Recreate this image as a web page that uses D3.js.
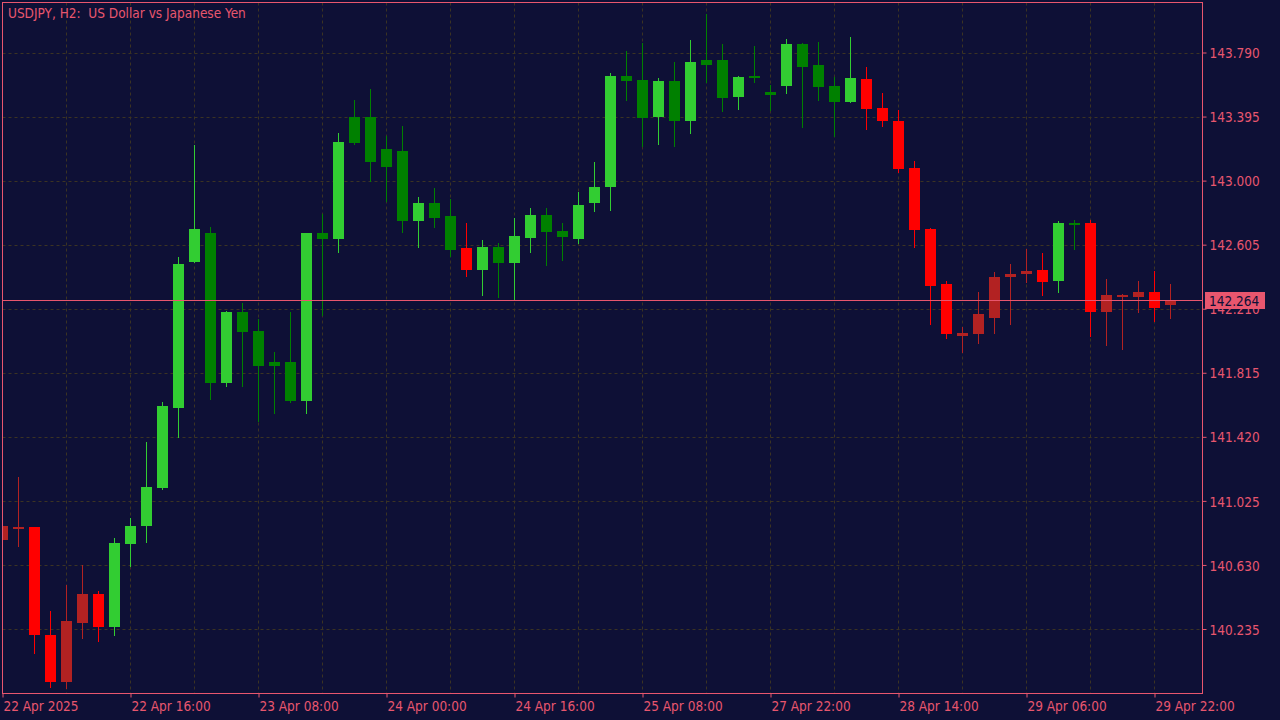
<!DOCTYPE html>
<html lang="en">
<head>
    <meta charset="UTF-8">
    <title>USDJPY H2</title>
    <script src="https://cdn.jsdelivr.net/npm/d3@7"></script>
    <style>
        body { margin: 0; background: #0e1036; overflow: hidden; }
        text { font-family: "DejaVu Sans Condensed", "DejaVu Sans", sans-serif; font-stretch: condensed; white-space: pre; }
    </style>
</head>
<body>
</body>
<script>
    const width = 1280;
    const height = 720;

    // H2 bars, oldest first
    const open = [140.784,140.864,140.864,140.198,139.910,140.272,140.451,140.247,140.759,140.870,
        141.105,141.598,142.498,142.677,141.752,142.190,142.073,141.882,141.882,141.641,
        142.677,142.640,143.232,143.392,143.084,143.183,142.751,142.862,142.782,142.585,
        142.449,142.591,142.492,142.646,142.788,142.689,142.640,142.862,142.961,143.645,
        143.621,143.392,143.614,143.368,143.744,143.744,143.516,143.645,143.546,143.584,
        143.843,143.713,143.584,143.485,143.627,143.447,143.368,143.078,142.702,142.363,
        142.042,142.054,142.153,142.406,142.424,142.449,142.381,142.739,142.739,142.190,
        142.282,142.282,142.313,142.233];
    const high = [140.907,141.172,140.866,140.346,140.506,140.630,140.469,140.796,140.920,141.388,
        141.635,142.529,143.220,142.714,142.196,142.245,142.147,141.943,142.190,142.680,
        142.794,143.294,143.497,143.565,143.275,143.337,142.899,142.955,142.887,142.736,
        142.634,142.615,142.770,142.830,142.830,142.739,142.930,143.115,143.664,143.799,
        143.849,143.633,143.732,143.867,144.028,143.843,143.645,143.830,143.590,143.874,
        143.849,143.855,143.639,143.886,143.701,143.540,143.436,143.121,142.708,142.381,
        142.097,142.313,142.437,142.486,142.578,142.554,142.751,142.757,142.757,142.393,
        142.301,142.381,142.443,142.363];
    const low = [140.753,140.747,140.087,139.877,139.871,140.181,140.161,140.198,140.624,140.772,
        141.098,141.419,142.498,141.653,141.733,141.733,141.518,141.567,141.635,141.567,
        142.171,142.560,143.226,142.998,142.874,142.683,142.591,142.714,142.535,142.412,
        142.295,142.282,142.270,142.560,142.480,142.511,142.615,142.813,142.819,143.497,
        143.214,143.226,143.214,143.294,143.608,143.429,143.441,143.608,143.436,143.540,
        143.331,143.497,143.275,143.485,143.319,143.337,143.053,142.591,142.116,142.029,
        141.943,141.999,142.060,142.116,142.375,142.295,142.313,142.578,142.042,141.986,
        141.962,142.190,142.134,142.153];
    const close = [140.870,140.867,140.198,139.910,140.284,140.451,140.247,140.765,140.870,141.111,
        141.610,142.486,142.702,141.752,142.190,142.067,141.857,141.857,141.641,142.677,
        142.640,143.238,143.392,143.115,143.195,142.751,142.862,142.770,142.572,142.449,
        142.591,142.492,142.659,142.788,142.683,142.652,142.850,142.961,143.645,143.614,
        143.386,143.614,143.368,143.732,143.713,143.510,143.639,143.633,143.528,143.843,
        143.701,143.577,143.485,143.633,143.441,143.368,143.072,142.695,142.350,142.054,
        142.060,142.178,142.406,142.424,142.443,142.375,142.739,142.733,142.190,142.295,
        142.295,142.313,142.215,142.264];
    // trend state per bar: 2 strong up, 1 weak up, -1 weak down, -2 strong down
    const signal = [-1,-1,-2,-2,-1,-1,-2,2,2,2,
        2,2,2,1,2,1,1,1,1,2,
        1,2,1,1,1,1,2,1,1,-2,
        2,1,2,2,1,1,2,2,2,1,
        1,2,1,2,1,1,2,1,1,2,
        1,1,1,2,-2,-2,-2,-2,-2,-2,
        -1,-1,-1,-1,-1,-2,2,1,-2,-1,
        -1,-1,-2,-1];

    const priceTicks = [143.790, 143.395, 143.000, 142.605, 142.210, 141.815, 141.420, 141.025, 140.630, 140.235];
    const timeTickIdx = [0, 8, 16, 24, 32, 40, 48, 56, 64, 72];
    const timeTickLabels = ["22 Apr 2025", "22 Apr 16:00", "23 Apr 08:00", "24 Apr 00:00", "24 Apr 16:00",
        "25 Apr 08:00", "27 Apr 22:00", "28 Apr 14:00", "29 Apr 06:00", "29 Apr 22:00"];
    const lastPrice = 142.264;
    const title = "USDJPY, H2:  US Dollar vs Japanese Yen";

    const fg = "#e8566e";
    const gridColor = "#3b3323";

    const plot = { left: 2.5, top: 2.5, right: 1202.5, bottom: 693.5 };

    const x = d3.scaleLinear().domain([0, 75]).range([plot.left, plot.right]);
    const y = d3.scaleLinear().domain([140.235, 143.790]).range([629, 52.5]);
    const color = d3.scaleOrdinal().domain([2, 1, -1, -2]).range(["#32cd32", "#008000", "#b22222", "#ff0000"]);

    const bars = open.map((o, i) => ({ i, o, h: high[i], l: low[i], c: close[i], s: signal[i] }));

    const svg = d3.select("body")
        .append("svg")
            .attr("width", width)
            .attr("height", height)
            .style("display", "block");

    svg.append("rect")
        .attr("width", width)
        .attr("height", height)
        .attr("fill", "#0e1036");

    svg.append("clipPath")
        .attr("id", "plot-clip")
        .append("rect")
            .attr("x", plot.left + 0.5)
            .attr("y", plot.top + 0.5)
            .attr("width", plot.right - plot.left - 1)
            .attr("height", plot.bottom - plot.top - 1);

    const chart = svg.append("g").attr("clip-path", "url(#plot-clip)");

    // grid
    chart.append("g")
        .selectAll("line")
        .data(priceTicks)
        .enter()
        .append("line")
            .attr("x1", plot.left)
            .attr("x2", plot.right)
            .attr("y1", d => Math.round(y(d)) + 0.5)
            .attr("y2", d => Math.round(y(d)) + 0.5)
            .attr("stroke", gridColor)
            .attr("stroke-dasharray", "3,3");

    const vGrid = d3.range(0, 76, 4);
    chart.append("g")
        .selectAll("line")
        .data(vGrid)
        .enter()
        .append("line")
            .attr("x1", d => x(d))
            .attr("x2", d => x(d))
            .attr("y1", plot.top)
            .attr("y2", plot.bottom)
            .attr("stroke", gridColor)
            .attr("stroke-dasharray", "3,3");

    // candles
    const candle = chart.append("g")
        .selectAll("g")
        .data(bars)
        .enter()
        .append("g");

    candle.append("line")
        .attr("x1", d => x(d.i))
        .attr("x2", d => x(d.i))
        .attr("y1", d => Math.round(y(d.h)))
        .attr("y2", d => Math.round(y(d.l)) + 1)
        .attr("stroke", d => color(d.s))
        .attr("stroke-width", 1);

    candle.append("rect")
        .attr("x", d => x(d.i) - 5.5)
        .attr("width", 11)
        .attr("y", d => Math.round(y(Math.max(d.o, d.c))))
        .attr("height", d => Math.max(2, Math.round(y(Math.min(d.o, d.c))) - Math.round(y(Math.max(d.o, d.c)))))
        .attr("fill", d => color(d.s));

    // last price line
    chart.append("line")
        .attr("x1", plot.left)
        .attr("x2", plot.right)
        .attr("y1", Math.round(y(lastPrice)) + 0.5)
        .attr("y2", Math.round(y(lastPrice)) + 0.5)
        .attr("stroke", fg);

    // frame
    svg.append("rect")
        .attr("x", plot.left)
        .attr("y", plot.top)
        .attr("width", plot.right - plot.left)
        .attr("height", plot.bottom - plot.top)
        .attr("fill", "none")
        .attr("stroke", fg);

    // price axis
    const yAxis = svg.append("g")
        .attr("transform", `translate(${plot.right},0)`)
        .call(d3.axisRight(y).tickValues(priceTicks).tickFormat(d3.format(".3f")).tickSize(4).tickPadding(3));
    yAxis.select(".domain").remove();
    yAxis.selectAll(".tick line").attr("stroke", fg);
    yAxis.selectAll(".tick text")
        .attr("fill", fg)
        .attr("dy", "0.38em")
        .style("font-size", "13.5px");

    // time axis
    const xAxis = svg.append("g")
        .attr("transform", `translate(0,${plot.bottom})`)
        .call(d3.axisBottom(x).tickValues(timeTickIdx).tickFormat((d, i) => timeTickLabels[i]).tickSize(4));
    xAxis.select(".domain").remove();
    xAxis.selectAll(".tick line").attr("stroke", fg);
    xAxis.selectAll(".tick text")
        .attr("fill", fg)
        .attr("text-anchor", "start")
        .attr("x", 0.5)
        .attr("y", 17.5)
        .attr("dy", null)
        .style("font-size", "13.5px");

    // last price label (covers the nearby tick label, as in the terminal)
    const tag = svg.append("g")
        .attr("transform", `translate(${plot.right + 2.5},${Math.round(y(lastPrice)) - 8})`);
    tag.append("rect")
        .attr("width", 60)
        .attr("height", 17)
        .attr("fill", fg);
    tag.append("text")
        .attr("x", 4)
        .attr("y", 13.5)
        .attr("fill", "#0e1036")
        .style("font-size", "13.5px")
        .text(lastPrice.toFixed(3));

    // title
    svg.append("text")
        .attr("x", 8)
        .attr("y", 18)
        .attr("fill", fg)
        .style("font-size", "13.5px")
        .text(title);
</script>
</html>
